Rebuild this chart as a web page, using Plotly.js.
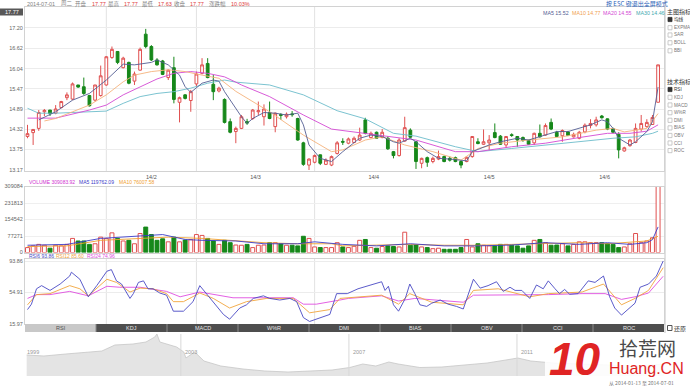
<!DOCTYPE html>
<html><head><meta charset="utf-8">
<script src="https://cdn.plot.ly/plotly-3.0.1.min.js"></script>
<style>html,body{margin:0;padding:0;background:#fff;overflow:hidden}#chart{width:690px;height:387px}</style>
</head><body><div id="chart"></div>
<script>
// ---------- data ----------
const monthStarts = [14, 30, 51, 72, 92];
const monthEnd = 113;
const monthLabels = ['14/2', '14/3', '14/4', '14/5', '14/6'];
const gridMonthIdx = [14, 30, 51];

const open = [14.12,14.23,14.35,14.82,14.87,14.78,14.94,15.22,15.18,15.58,
15.53,15.28,15.15,15.28,15.58,16.36,16.53,16.07,16.22,15.69,
16.00,17.02,16.67,16.29,16.26,15.79,16.07,15.09,15.30,15.14,
15.61,15.91,16.19,15.60,15.41,15.17,14.54,14.26,14.35,14.54,
14.63,14.82,14.68,14.80,14.40,14.74,14.68,14.76,14.63,13.94,
13.31,13.39,13.60,13.33,13.31,13.64,13.98,13.93,13.95,14.02,
14.59,14.09,14.24,14.09,14.07,13.69,13.58,13.99,14.30,13.97,
13.36,13.52,13.41,13.48,13.55,13.50,13.52,13.41,13.41,13.55,
13.97,13.90,13.94,14.23,14.13,13.88,14.17,14.12,14.09,14.01,
13.94,14.21,14.16,14.52,14.24,14.14,14.25,14.11,14.07,14.25,
14.43,14.45,14.70,14.62,14.34,14.18,13.71,13.86,13.95,14.33,
14.40,14.46,15.09];
const high = [14.45,14.32,14.87,14.90,14.87,15.01,15.13,15.37,15.65,15.58,
15.79,15.30,15.58,16.13,16.40,16.67,16.54,16.38,16.24,15.96,
16.64,17.17,16.71,16.34,16.29,16.02,16.38,15.25,15.32,15.44,
15.96,16.34,16.34,15.86,15.53,15.20,14.63,14.40,14.73,14.62,
14.90,15.11,15.03,15.11,14.80,14.78,14.80,14.84,14.65,13.97,
13.50,13.61,13.61,13.50,13.58,13.99,14.07,14.09,14.12,14.37,
14.65,14.26,14.26,14.33,14.12,13.71,14.07,14.68,14.35,13.99,
13.52,13.55,13.55,13.72,13.58,13.55,13.55,13.45,13.55,14.13,
14.07,14.32,14.16,14.49,14.16,14.13,14.21,14.13,14.12,14.03,
14.23,14.46,14.49,14.63,14.28,14.32,14.28,14.23,14.28,14.49,
14.61,14.68,14.73,14.63,14.37,14.24,13.83,14.05,14.49,14.73,
14.61,14.73,16.15];
const low = [14.07,13.88,14.28,14.70,14.70,14.75,14.92,15.15,15.15,15.50,
15.30,14.97,15.11,15.25,15.56,16.32,16.17,16.05,15.60,15.58,
15.99,16.62,16.26,16.13,15.86,15.72,15.06,14.52,15.17,14.82,
15.53,15.88,15.77,15.15,15.37,14.49,14.21,13.93,14.33,14.45,
14.59,14.73,14.43,14.61,14.24,14.59,14.63,14.68,14.00,13.29,
13.17,13.36,13.31,13.31,13.28,13.61,13.88,13.90,13.93,13.99,
14.18,14.07,14.05,14.07,13.74,13.50,13.55,13.97,14.07,13.20,
13.22,13.26,13.36,13.45,13.39,13.41,13.39,13.22,13.39,13.52,
13.90,13.88,13.74,14.07,13.88,13.80,14.11,13.83,13.97,13.88,
13.88,14.09,14.14,14.30,14.11,13.97,14.13,14.09,14.04,14.21,
14.35,14.40,14.63,14.30,14.21,13.50,13.69,13.83,13.93,14.26,
14.37,14.45,15.09];
const close = [14.20,14.32,14.80,14.86,14.77,14.90,15.11,15.30,15.61,15.52,
15.34,14.99,15.58,15.84,16.38,16.59,16.22,16.34,15.63,15.89,
16.59,16.67,16.29,16.15,15.88,16.00,15.17,15.22,15.20,15.39,
15.89,16.15,15.79,15.39,15.49,14.52,14.24,14.35,14.68,14.50,
14.87,14.85,14.90,14.63,14.78,14.72,14.75,14.74,14.02,13.33,
13.48,13.58,13.36,13.45,13.55,13.94,13.96,14.05,14.07,14.16,
14.21,14.21,14.07,14.24,13.77,13.58,14.02,14.37,14.10,13.41,
13.50,13.39,13.50,13.55,13.41,13.45,13.41,13.31,13.53,14.12,
13.92,13.97,14.02,14.09,13.90,14.12,14.15,14.02,14.01,13.90,
14.21,14.11,14.43,14.33,14.12,14.29,14.15,14.18,14.24,14.44,
14.49,14.59,14.65,14.33,14.24,13.74,13.80,14.02,14.35,14.49,
14.52,14.66,16.15];

const ma5X = [2,5,8,11,14,16,17,19,22,23,25,27,28,29,31,33,34,35,37,38,39,40,42,44,46,48,49,50,52,54,56,58,59,61,63,65,66,68,69,71,73,75,78,79,82,84,87,89,91,94,96,98,100,102,103,104,105,107,108,110,111,112];
const ma5Y = [14.59,14.82,15.15,15.34,15.72,16.01,16.17,16.15,16.22,16.29,16.15,15.86,15.53,15.37,15.63,15.72,15.69,15.39,14.92,14.68,14.49,14.63,14.80,14.78,14.73,14.78,14.45,13.88,13.50,13.41,13.69,13.93,14.07,14.16,14.12,13.97,13.93,14.07,13.97,13.69,13.50,13.48,13.43,13.69,13.88,13.97,14.07,14.02,14.12,14.26,14.26,14.35,14.45,14.59,14.54,14.35,14.07,13.88,13.97,14.26,14.54,15.52];
const ma10X = [3,5,8,11,14,17,19,22,25,28,31,34,37,43,49,54,56,60,63,67,72,76,77,80,84,89,95,101,104,106,110,112];
const ma10Y = [14.56,14.63,14.82,15.01,15.30,15.67,15.86,15.96,16.01,15.96,15.86,15.77,15.40,14.82,14.16,13.69,13.74,14.02,14.11,13.88,13.69,13.50,13.45,13.78,13.93,14.02,14.11,14.30,14.35,14.25,14.35,14.77];
const ma20X = [0,5,11,14,17,20,23,26,29,32,35,37,38,43,49,54,60,65,69,76,80,86,92,98,103,107,110,112];
const ma20Y = [14.64,14.64,14.87,15.01,15.30,15.53,15.75,15.91,15.96,15.91,15.81,15.66,15.58,15.25,14.73,14.33,14.21,14.11,14.02,13.69,13.69,13.83,13.93,14.09,14.21,14.21,14.27,14.45];
const ma30X = [0,2,5,11,14,17,20,23,26,29,32,35,37,43,49,55,60,65,69,76,80,86,92,98,104,108,111,112];
const ma30Y = [14.92,14.78,14.78,14.81,14.84,15.06,15.25,15.34,15.39,15.49,15.63,15.72,15.66,15.58,15.30,14.85,14.62,14.21,14.13,13.83,13.69,13.78,13.88,13.97,14.07,14.11,14.21,14.27];

const volume = [23000,31000,38000,34000,20000,34000,31000,38000,66000,54000,
54000,38000,41000,72000,66000,92000,66000,54000,57000,41000,
89000,119000,84000,57000,64000,50000,72000,50000,58000,60000,
84000,80000,66000,54000,38000,57000,46000,35000,34000,38000,
23000,34000,35000,46000,46000,41000,34000,34000,31000,76000,
66000,26000,23000,23000,23000,46000,26000,23000,29000,57000,
61000,23000,20000,28000,31000,28000,26000,95000,34000,35000,
26000,23000,18000,20000,15000,15000,15000,23000,61000,26000,
41000,34000,31000,31000,38000,38000,34000,31000,20000,31000,
57000,61000,46000,34000,35000,41000,31000,38000,50000,50000,
46000,46000,46000,41000,38000,23000,26000,41000,89000,46000,
54000,69000,309084];
const volMa5X = [0,7,13,19,24,28,31,37,42,48,51,56,62,68,74,80,86,92,98,103,107,110,111,112];
const volMa5Y = [34000,38000,66000,77000,84000,61000,57000,54000,41000,41000,50000,38000,31000,41000,31000,31000,35000,46000,38000,46000,38000,46000,60000,119762];
const volMa10X = [0,7,13,19,25,31,37,42,48,54,56,62,68,74,80,86,92,98,103,110,112];
const volMa10Y = [28000,31000,57000,66000,72000,66000,57000,46000,41000,41000,31000,35000,38000,34000,34000,38000,41000,46000,41000,54000,76008];

const rsi6X = [0,0.7,1.6,2.5,4.0,5.8,7.5,7.8,9.3,10.8,12.3,14.1,14.9,15.8,16.7,18.2,18.8,19.7,20.6,21.4,22.3,23.5,24.7,25.9,27.7,29.4,30.6,31.8,33.0,34.8,35.9,37.7,38.9,40.1,41.9,43.0,44.8,46.6,47.8,49.0,50.1,51.9,53.7,54.9,56.8,58.7,60.5,62.9,63.5,64.1,65.0,65.9,67.1,67.9,68.8,69.7,70.9,71.8,73.3,74.7,76.2,77.4,79.2,80.4,81.8,83.3,84.5,85.7,86.6,87.8,89.2,90.4,91.6,92.5,93.7,94.5,95.4,96.3,97.8,99.6,100.8,102.3,103.4,104.3,105.5,106.7,107.9,108.8,110.3,111.7,112.9];
const rsi6Y = [33.8,40.5,59.5,63.4,57.5,65.4,75.3,80.0,71.3,49.6,63.4,81.2,83.2,69.3,65.4,47.6,53.5,67.4,69.3,59.5,59.5,54.3,51.6,31.8,31.8,43.6,63.4,53.5,43.6,27.8,21.9,35.7,39.7,47.6,50.8,47.6,45.6,47.6,43.6,23.9,19.1,23.9,27.8,53.5,53.5,59.5,63.4,68.2,57.5,62.6,39.7,31.8,47.6,65.4,53.5,39.7,37.7,41.7,45.6,40.5,37.7,34.5,71.3,60.3,63.4,68.2,56.3,61.4,57.5,57.5,47.6,64.2,59.5,69.3,59.5,53.5,58.7,52.7,53.5,69.3,67.4,75.3,49.6,35.7,27.0,33.8,41.7,61.4,65.4,75.3,93.86];
const rsi12X = [0,1.6,4.0,7.5,9.3,10.8,14.1,15.8,18.2,20.0,22.3,24.7,25.9,27.7,30.6,33.0,35.9,38.9,42.5,47.2,50.1,53.7,55.5,57.0,62.9,65.9,67.9,71.8,77.4,79.2,83.6,89.2,92.5,98.5,102.3,105.5,107.9,110.3,112.9];
const rsi12Y = [39.7,52.3,53.5,63.4,59.5,50.8,71.3,67.4,55.5,60.3,59.5,53.5,43.6,43.6,54.3,47.6,35.7,43.6,47.6,47.6,29.8,33.8,47.6,48.4,51.6,40.5,53.5,42.9,39.7,57.5,59.5,49.6,53.5,55.5,65.4,39.7,47.6,57.5,85.60];
const rsi24X = [0,1.6,4.0,7.5,10.8,14.1,16.4,20.0,24.7,27.1,30.6,33.6,36.5,42.5,47.2,49.0,51.3,55.5,57.0,62.9,65.9,68.8,74.7,77.4,79.2,86.6,92.5,98.5,102.6,105.5,107.9,110.3,112.9];
const rsi24Y = [47.6,52.3,52.3,56.3,50.8,62.6,61.4,61.4,56.3,49.6,55.5,51.6,48.4,48.4,48.4,40.5,40.5,45.6,47.6,50.8,44.4,47.6,44.4,42.9,51.6,51.6,52.3,53.5,53.5,46.4,49.6,54.3,74.96];

const navYear = [1999.33,1999.74,2000.26,2000.79,2001.12,2001.43,2001.86,2002.17,2002.38,2002.43,2002.5,2002.9,2003.07,2003.12,2003.33,2003.55,2003.95,2004.48,2005.0,2005.55,2006.07,2006.6,2007.02,2007.33,2007.64,2007.95,2008.17,2008.69,2009.21,2009.76,2010.29,2010.81,2011.02,2011.33,2011.86,2012.5,2013.2,2013.8,2014.5];
const navVal = [21,20,22,24,25,31,32,34,39,42,34,29,24,18,24,15,10,7,5,4,5,6,8.5,12,10,14,12,8.5,9,11,13,16.5,18,15,13,12,11,10,12];
const navYearLines = [2003, 2007, 2011];

const priceTicks = [13.17,13.75,14.32,14.89,15.47,16.04,16.62,17.20,17.77];
const volTicks = [0,77271,154542,231813,309084];
const rsiTicks = [15.97,54.91,93.86];

const headerItems = [['2014-07-01',0],['周二',0],['开盘',0],['17.77',1],['最高',0],['17.77',1],['最低',0],['17.63',1],['收盘',0],['17.77',1],['涨跌幅',0],['10.03%',1]];
const maLegend = ['MA5 15.52','MA10 14.77','MA20 14.55','MA30 14.46'];
const volLegend = ['VOLUME 309083.92','MA5 119762.09','MA10 76007.58'];
const rsiLegend = ['RSI6 93.86','RSI12 85.60','RSI24 74.96'];
const tabs = ['RSI','KDJ','MACD','W%R','DMI','BIAS','OBV','CCI','ROC'];
const mainInd = ['均线','EXPMA','SAR','BOLL','BBI'];
const techInd = ['RSI','KDJ','MACD','W%R','DMI','BIAS','OBV','CCI','ROC'];

// ---------- layout helpers ----------
const W = 690, H = 387;
const px = x => x / W;
const py = y => 1 - y / H;
const FONT = 'Liberation Sans, Noto Sans CJK SC, sans-serif';
const CJK = 'Noto Sans CJK SC, sans-serif';
const UP = '#e05050', DN = '#16881a';
const C_MA5 = '#535d93', C_MA10 = '#f5b27c', C_MA20 = '#d448d4', C_MA30 = '#6cbccb';
const C_V5 = '#3c3cc8', C_V10 = '#f0a030', C_VOL = '#d030d0';
const C_R6 = '#4848c4', C_R12 = '#f2a53c', C_R24 = '#e04ee0';
const LINEC = '#d2d2d2';

const xDom = [px(25), px(664)];
const xRange = [-0.444, 113.05];
const idx = close.map((_, i) => i);

const traces = [];
traces.push({type:'candlestick', x: idx, open, high, low, close, xaxis:'x', yaxis:'y',
  increasing:{line:{color:UP, width:1}, fillcolor:'#ffffff'},
  decreasing:{line:{color:DN, width:1}, fillcolor:DN},
  whiskerwidth:0, hoverinfo:'skip', showlegend:false});
[[ma30X,ma30Y,C_MA30],[ma20X,ma20Y,C_MA20],[ma10X,ma10Y,C_MA10],[ma5X,ma5Y,C_MA5]].forEach(([x,y,c]) =>
  traces.push({type:'scatter', mode:'lines', x, y, xaxis:'x', yaxis:'y', line:{color:c, width:0.9}, hoverinfo:'skip'}));

const upI = idx.filter(i => close[i] >= open[i]);
const dnI = idx.filter(i => close[i] < open[i]);
traces.push({type:'bar', x: upI, y: upI.map(i => volume[i]), width:0.7, xaxis:'x2', yaxis:'y2',
  marker:{color:'#ffffff', line:{color:UP, width:1}}, hoverinfo:'skip'});
traces.push({type:'bar', x: dnI, y: dnI.map(i => volume[i]), width:0.7, xaxis:'x2', yaxis:'y2',
  marker:{color:DN, line:{color:DN, width:1}}, hoverinfo:'skip'});
traces.push({type:'scatter', mode:'lines', x: volMa10X, y: volMa10Y, xaxis:'x2', yaxis:'y2', line:{color:C_V10, width:0.9}, hoverinfo:'skip'});
traces.push({type:'scatter', mode:'lines', x: volMa5X, y: volMa5Y, xaxis:'x2', yaxis:'y2', line:{color:C_V5, width:0.9}, hoverinfo:'skip'});

[[rsi24X,rsi24Y,C_R24],[rsi12X,rsi12Y,C_R12],[rsi6X,rsi6Y,C_R6]].forEach(([x,y,c]) =>
  traces.push({type:'scatter', mode:'lines', x, y, xaxis:'x3', yaxis:'y3', line:{color:c, width:0.9}, hoverinfo:'skip'}));

traces.push({type:'scatter', mode:'lines', x: navYear, y: navVal, xaxis:'x4', yaxis:'y4', fill:'tozeroy',
  fillcolor:'#e4e4e4', line:{color:'#c6c6c6', width:0.8}, hoverinfo:'skip'});

const monthMid = monthStarts.map((s, k) => (s + (k + 1 < monthStarts.length ? monthStarts[k + 1] : monthEnd)) / 2);

const baseX = {domain:xDom, range:xRange, showgrid:false, zeroline:false, showline:true, mirror:true,
  linecolor:LINEC, linewidth:1, ticks:'', fixedrange:true};
const tickF = {size:5.5, color:'#666', family:FONT};
const lastTick = priceTicks[priceTicks.length - 1];

const layout = {
  width:W, height:H, margin:{l:0, r:0, t:0, b:0, pad:0}, paper_bgcolor:'#fff', plot_bgcolor:'#fff',
  showlegend:false, barmode:'overlay', font:{family:FONT, size:6, color:'#666'},
  xaxis: Object.assign({}, baseX, {anchor:'y', rangeslider:{visible:false}, tickmode:'array',
    tickvals: monthMid, ticktext: monthLabels, tickfont:{size:5.5, color:'#555', family:FONT}}),
  xaxis2: Object.assign({}, baseX, {anchor:'y2', showticklabels:false}),
  xaxis3: Object.assign({}, baseX, {anchor:'y3', showticklabels:false}),
  xaxis4: {domain:xDom, range:[1999.29, 2014.5], anchor:'y4', showgrid:false, zeroline:false,
    showline:false, showticklabels:false, ticks:''},
  yaxis: {domain:[py(171), py(7)], range:[13.142, 17.79], anchor:'x', tickmode:'array',
    tickvals: priceTicks, ticktext: priceTicks.map(v => v === lastTick ? '' : v.toFixed(2)), tickfont:tickF,
    gridcolor:'#ececec', gridwidth:1, zeroline:false, showline:true, mirror:true, linecolor:LINEC, ticks:''},
  yaxis2: {domain:[py(252.5), py(186.5)], range:[0, 309084], anchor:'x2', tickmode:'array',
    tickvals: volTicks, ticktext: volTicks.map(String), tickfont:tickF,
    gridcolor:'#efefef', zeroline:false, showline:true, mirror:true, linecolor:LINEC, ticks:''},
  yaxis3: {domain:[py(324), py(259)], range:[15.97, 96.33], anchor:'x3', tickmode:'array',
    tickvals: rsiTicks, ticktext: rsiTicks.map(v => v.toFixed(2)), tickfont:tickF,
    gridcolor:'#ececec', zeroline:false, showline:true, mirror:true, linecolor:LINEC, ticks:''},
  yaxis4: {domain:[py(376), py(333)], range:[0, 43], anchor:'x4', showgrid:false, zeroline:false,
    showline:false, showticklabels:false, ticks:''},
  shapes: [], annotations: []
};

const S = layout.shapes, A = layout.annotations;
function ann(x, y, text, o) {
  o = o || {};
  A.push({xref:'paper', yref:'paper', x:px(x), y:py(y), text, showarrow:false,
    xanchor:o.xa || 'left', yanchor:'middle', borderpad:0,
    font:{size:o.size || 5.5, color:o.color || '#666', family:o.family || FONT},
    bgcolor:o.bg});
}
function rect(x0, y0, x1, y1, fill, line, lw) {
  S.push({type:'rect', xref:'paper', yref:'paper', x0:px(x0), x1:px(x1), y0:py(y1), y1:py(y0),
    fillcolor:fill, line:{color:line || fill, width:lw === undefined ? 0 : lw}, layer:'above'});
}
function lineP(x0, y0, x1, y1, c, w) {
  S.push({type:'line', xref:'paper', yref:'paper', x0:px(x0), x1:px(x1), y0:py(y0), y1:py(y1),
    line:{color:c, width:w || 1}, layer:'below'});
}

// month grid lines in the three panels
gridMonthIdx.forEach(i => {
  [[171,7],[252.5,186.5],[324,259]].forEach(([b,t]) => {
    S.push({type:'line', xref:'x', yref:'paper', x0:i, x1:i, y0:py(b), y1:py(t), line:{color:'#e2e2e2', width:1}, layer:'below'});
  });
});

// right separator
lineP(665, 0, 665, 333, '#c4c4c4', 1);

// header line
const hdrX = [26,60,74,91,107,123,141,157,173,189,208,230];
headerItems.forEach(([t, red], k) => ann(hdrX[k], 4, t, {color: red ? '#e03a3a' : '#808080'}));
ann(605, 3.5, '按 ESC 键退出全屏模式', {color:'#2a62b8', size:6, family:CJK});

// MA legend
const maX = [542, 571, 602, 635], maC = [C_MA5, '#f0a050', C_MA20, '#3fa9b0'];
maLegend.forEach((t, k) => ann(maX[k], 13.3, t, {color:maC[k], size:5.3}));

// 17.77 highlight (current price)
rect(0, 8.5, 23, 15.5, '#585858');
ann(11.5, 12, lastTick.toFixed(2), {xa:'center', color:'#ffffff', size:5.5});

// volume header
const vX = [28, 78, 118], vC = [C_VOL, C_V5, C_V10];
volLegend.forEach((t, k) => ann(vX[k], 182.3, t, {color:vC[k], size:5}));
// RSI header
const rX = [28, 55, 86], rC = [C_R6, C_R12, C_R24];
rsiLegend.forEach((t, k) => ann(rX[k], 256, t, {color:rC[k], size:5}));

// tab bar
const tabW = (664 - 25) / tabs.length;
tabs.forEach((t, k) => {
  const x0 = 25 + k * tabW;
  rect(x0, 324, x0 + tabW, 332, k === 0 ? '#c8c8c8' : '#4e4e4e');
  if (k > 0) S.push({type:'line', xref:'paper', yref:'paper', x0:px(x0), x1:px(x0), y0:py(332), y1:py(324), line:{color:'#8a8a8a', width:1}, layer:'above'});
  ann(x0 + tabW / 2, 328, t, {xa:'center', color: k === 0 ? '#555' : '#e6e6e6', size:5.5});
});
// 还原
rect(667.5, 325.5, 672, 330.5, '#ffffff', '#555', 1);
ann(673, 328, '还原', {color:'#333', size:6, family:CJK});

// right indicator panel
ann(666, 11.5, '主图指标', {color:'#333', size:6, family:CJK});
const mainY = [19.5, 27.7, 35, 42.8, 50.8];
mainInd.forEach((t, k) => {
  rect(668, mainY[k] - 2.1, 672, mainY[k] + 2.1, k === 0 ? '#333' : '#ffffff', k === 0 ? '#333' : '#bdbdbd', 0.8);
  ann(673, mainY[k], t, {color: k === 0 ? '#333' : '#777', size:4.6, family: k === 0 ? CJK : FONT});
});
ann(666, 81.7, '技术指标', {color:'#333', size:6, family:CJK});
const techY = [89.5, 97.3, 105, 112.7, 120.3, 127.9, 135.5, 143, 150.6];
techInd.forEach((t, k) => {
  rect(668, techY[k] - 2.1, 672, techY[k] + 2.1, k === 0 ? '#333' : '#ffffff', k === 0 ? '#333' : '#bdbdbd', 0.8);
  ann(673, techY[k], t, {color: k === 0 ? '#333' : '#777', size:4.6});
});

// navigator year lines & labels
navYearLines.forEach(yr => {
  S.push({type:'line', xref:'x4', yref:'paper', x0:yr, x1:yr, y0:py(376), y1:py(334), line:{color:'#d8d8d8', width:1}, layer:'above'});
});
ann(26, 351.5, '1999', {color:'#999'});
navYearLines.forEach((yr, k) => ann([184, 352, 520][k], 351.5, String(yr), {color:'#999'}));

// watermark logo
rect(545, 334, 690, 387, 'rgba(255,255,255,0.88)');
ann(575, 359, '<b><i>10</i></b>', {xa:'center', color:'#e02424', size:46});
ann(647, 347, '拾荒网', {xa:'center', color:'#4a4a4a', size:19, family:CJK});
ann(646, 368, 'Huang.CN', {xa:'center', color:'#e02424', size:16});
ann(608, 382.5, '从 2014-01-13 至 2014-07-01', {color:'#777', size:5, family:CJK});

Plotly.newPlot('chart', traces, layout, {displayModeBar:false, staticPlot:true});
</script>
</body></html>
